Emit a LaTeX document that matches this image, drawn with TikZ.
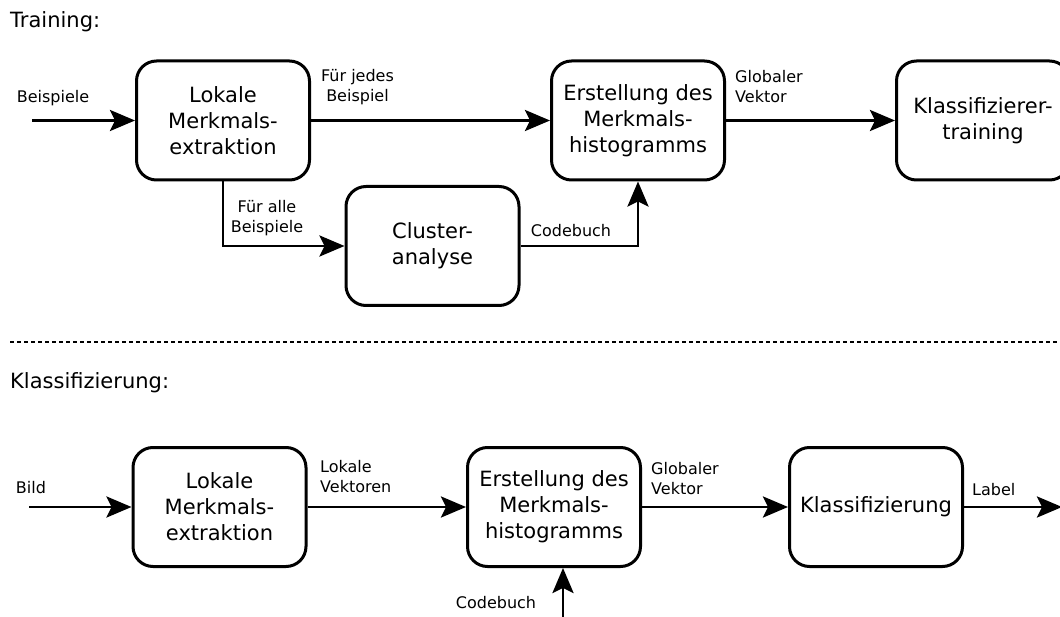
\documentclass[tikz,border=0pt]{standalone}
\usepackage{fontspec}
\setmainfont{DejaVu Sans}
\usetikzlibrary{arrows.meta}
\begin{document}
\begin{tikzpicture}[x=1pt,y=-1pt,
  stage/.style={draw, line width=3pt, rounded corners=20pt,
    minimum width=173pt, minimum height=119pt, align=center,
    font=\fontsize{21}{26}\selectfont, inner sep=0pt},
  flow/.style={line width=2.9pt, -{Stealth[length=25pt,width=21pt,inset=5pt]}},
  lbl/.style={font=\fontsize{16}{20}\selectfont, inner sep=0pt},
  heading/.style={font=\fontsize{21}{26}\selectfont, anchor=west, inner sep=0pt}]
\useasboundingbox (0,0) rectangle (1060,617);

% section headings and separator
\node[heading] (t1) at (10,22) {Training:};
\node[heading] (t2) at (10,383) {Klassifizierung:};
\coordinate (sepL) at (10,342);
\coordinate (sepR) at (1060,342);
\draw[line width=1.7pt, dash pattern=on 4pt off 3pt] (sepL) -- (sepR);

% training pipeline
\node[stage] (lme1) at (223,120.5) {Lokale\\Merkmals-\\extraktion};
\node[stage] (emh1) at (638,120.5) {Erstellung des\\Merkmals-\\histogramms};
\node[stage] (kt) at (983,120.5) {Klassifizierer-\\training};
\node[stage] (cl) at (432.5,246) {Cluster-\\analyse};
\coordinate (in1) at (32,120.5);

\draw[flow] (in1) -- (lme1);
\draw[flow] (lme1) -- (emh1);
\draw[flow] (emh1) -- (kt);
\draw[flow] (lme1.south) |- (cl.west);
\draw[flow] (cl.east) -| (emh1.south);

\node[lbl] (l1) at (53,98) {Beispiele};
\node[lbl, align=center] (l2) at (357.5,87) {Für jedes\\Beispiel};
\node[lbl, align=left, anchor=west] (l3) at (735,87) {Globaler\\Vektor};
\node[lbl, align=center] (l4) at (267,218) {Für alle\\Beispiele};
\node[lbl] (l5) at (571,231) {Codebuch};

% classification pipeline
\node[stage] (lme2) at (219.5,507) {Lokale\\Merkmals-\\extraktion};
\node[stage] (emh2) at (554,507) {Erstellung des\\Merkmals-\\histogramms};
\node[stage] (kl) at (876,507) {Klassifizierung};
\coordinate (in2) at (29,507);
\coordinate (out) at (1062,507);
\coordinate (cb) at (563,620);

\draw[flow] (in2) -- (lme2);
\draw[flow] (lme2) -- (emh2);
\draw[flow] (emh2) -- (kl);
\draw[flow] (kl) -- (out);
\draw[flow] (cb) -- (cb |- emh2.south);

\node[lbl] (l6) at (31,488) {Bild};
\node[lbl, align=left, anchor=west] (l7) at (320,477) {Lokale\\Vektoren};
\node[lbl, align=left, anchor=west] (l8) at (651,479) {Globaler\\Vektor};
\node[lbl, anchor=west] (l9) at (972,490) {Label};
\node[lbl] (l10) at (496,603) {Codebuch};
\end{tikzpicture}
\end{document}
